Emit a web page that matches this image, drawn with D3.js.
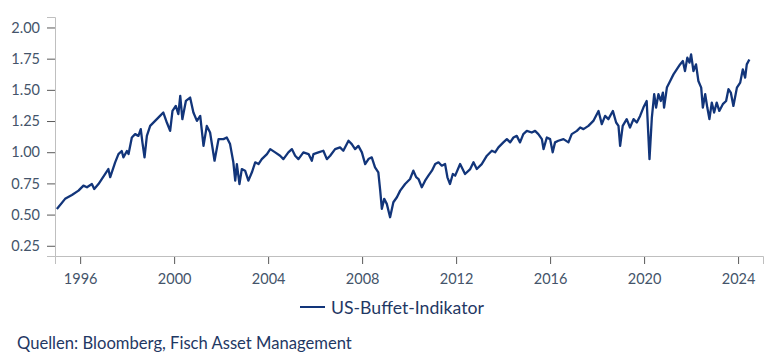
<!DOCTYPE html>
<html><head><meta charset="utf-8">
<script src="https://cdn.jsdelivr.net/npm/d3@7"></script>
<style>
html,body{margin:0;padding:0;background:#fff;}
svg{display:block;font-family:Lato,"Open Sans",sans-serif;}
</style></head>
<body>
<svg id="chart" width="778" height="360"></svg>
<script>
// fractional years of observations
const years = [
1995.01,1995.36,1995.65,1995.93,1996.14,1996.29,1996.50,1996.60,1996.78,1996.92,
1997.06,1997.20,1997.28,1997.49,1997.63,1997.77,1997.84,1997.99,1998.06,1998.20,
1998.34,1998.48,1998.58,1998.65,1998.74,1998.84,1998.98,1999.19,1999.40,1999.54,
1999.69,1999.83,1999.93,2000.07,2000.18,2000.26,2000.35,2000.50,2000.68,2000.82,
2000.97,2001.11,2001.25,2001.39,2001.53,2001.72,2001.89,2002.10,2002.24,2002.38,
2002.52,2002.60,2002.67,2002.78,2002.88,2003.02,2003.16,2003.31,2003.45,2003.59,
2003.73,2003.95,2004.09,2004.30,2004.51,2004.65,2004.86,2005.01,2005.15,2005.29,
2005.50,2005.72,2005.86,2005.93,2006.14,2006.35,2006.50,2006.64,2006.85,2007.06,
2007.20,2007.42,2007.56,2007.70,2007.84,2007.99,2008.13,2008.27,2008.41,2008.55,
2008.69,2008.77,2008.84,2008.94,2009.05,2009.19,2009.33,2009.48,2009.62,2009.83,
2010.04,2010.18,2010.30,2010.40,2010.54,2010.68,2010.82,2010.97,2011.11,2011.25,
2011.39,2011.53,2011.63,2011.74,2011.86,2011.96,2012.17,2012.38,2012.60,2012.74,
2012.88,2013.09,2013.31,2013.52,2013.66,2013.80,2014.01,2014.16,2014.30,2014.44,
2014.58,2014.72,2014.86,2015.01,2015.22,2015.36,2015.50,2015.65,2015.72,2015.86,
2016.00,2016.11,2016.21,2016.35,2016.57,2016.78,2016.92,2017.14,2017.28,2017.42,
2017.63,2017.84,2018.06,2018.20,2018.34,2018.48,2018.67,2018.81,2018.91,2018.98,
2019.09,2019.26,2019.40,2019.55,2019.69,2019.83,2019.97,2020.11,2020.23,2020.33,
2020.43,2020.51,2020.61,2020.71,2020.80,2020.85,2020.97,2021.11,2021.25,2021.39,
2021.53,2021.65,2021.74,2021.84,2021.93,2022.00,2022.10,2022.21,2022.31,2022.43,
2022.50,2022.60,2022.69,2022.78,2022.88,2022.98,2023.09,2023.20,2023.35,2023.49,
2023.59,2023.69,2023.80,2023.95,2024.09,2024.20,2024.30,2024.37,2024.48
];
// US-Buffet-Indikator values
const values = [
0.545,0.626,0.657,0.692,0.732,0.719,0.745,0.705,0.745,0.785,
0.825,0.865,0.800,0.919,0.985,1.010,0.959,1.010,0.985,1.118,
1.145,1.131,1.185,1.079,0.959,1.131,1.211,1.251,1.291,1.318,
1.238,1.171,1.331,1.371,1.305,1.451,1.265,1.411,1.438,1.318,
1.251,1.291,1.051,1.211,1.158,0.932,1.105,1.105,1.118,1.065,
0.919,0.772,0.905,0.745,0.865,0.852,0.772,0.839,0.919,0.905,
0.945,0.985,1.025,0.999,0.972,0.945,0.999,1.025,0.972,0.945,
0.999,0.985,0.932,0.985,0.999,1.012,0.945,0.972,1.025,1.039,
1.012,1.092,1.065,1.025,1.051,0.999,0.905,0.945,0.959,0.879,
0.839,0.692,0.546,0.626,0.586,0.479,0.599,0.639,0.692,0.745,
0.785,0.852,0.800,0.785,0.719,0.772,0.812,0.852,0.905,0.919,
0.892,0.905,0.799,0.745,0.825,0.812,0.905,0.825,0.865,0.919,
0.865,0.905,0.972,1.012,0.999,1.039,1.079,1.105,1.079,1.118,
1.131,1.079,1.145,1.171,1.158,1.171,1.145,1.105,1.025,1.118,
1.105,0.999,1.079,1.092,1.105,1.079,1.145,1.171,1.198,1.185,
1.211,1.251,1.331,1.225,1.291,1.265,1.331,1.238,1.211,1.051,
1.211,1.265,1.198,1.265,1.238,1.291,1.358,1.411,0.945,1.278,
1.465,1.358,1.465,1.411,1.478,1.358,1.518,1.571,1.624,1.664,
1.704,1.731,1.651,1.758,1.718,1.784,1.651,1.704,1.571,1.518,
1.358,1.465,1.358,1.265,1.398,1.318,1.398,1.331,1.385,1.411,
1.505,1.478,1.371,1.518,1.558,1.664,1.598,1.704,1.744
];
const yTicks = [0.25,0.50,0.75,1.00,1.25,1.50,1.75,2.00];
const xTickYears = [1996,2000,2004,2008,2012,2016,2020,2024];
const seriesName = "US-Buffet-Indikator";
const sourceText = "Quellen: Bloomberg, Fisch Asset Management";

const data = years.map((t,i)=>({t, v: values[i]}));
const svg = d3.select("#chart");

const x = d3.scaleLinear().domain([1994.93, 2025.06]).range([55, 763]);
const y = d3.scaleLinear().domain([0.168, 2.084]).range([256, 17]);

const tickColor = "#595959", axisColor = "#bfbfbf", labelColor = "#44546a";
const lineColor = "#12357a";

// fit a text element's font size so that it spans a target width
function fitWidth(sel, target, start){
  sel.style("font-size", start + "px");
  const w = sel.node().getComputedTextLength();
  sel.style("font-size", (start * target / w).toFixed(2) + "px");
}

// y axis
const gy = svg.append("g").attr("transform","translate(55,0)")
  .call(d3.axisLeft(y).tickValues(yTicks).tickFormat(d3.format(".2f")).tickSizeOuter(0).tickSize(8).tickPadding(7));
gy.select(".domain").attr("stroke", axisColor);
gy.selectAll(".tick line").attr("stroke", tickColor);
gy.selectAll(".tick text").attr("fill", labelColor).style("font-size","14.5px").style("font-family","Lato");

// x axis
const gx = svg.append("g").attr("transform","translate(0,256)")
  .call(d3.axisBottom(x).tickValues(xTickYears).tickFormat(d3.format("d")).tickSizeOuter(0).tickSize(8).tickPadding(10));
gx.select(".domain").attr("stroke", axisColor);
gx.selectAll(".tick line").attr("stroke", tickColor).attr("y1", 1);
gx.selectAll(".tick text").attr("fill", labelColor).style("font-size","14.5px").style("font-family","Lato");

// line
svg.append("path").datum(data)
  .attr("fill","none").attr("stroke", lineColor).attr("stroke-width", 2.3)
  .attr("stroke-linejoin","round")
  .attr("d", d3.line().x(d=>x(d.t)).y(d=>y(d.v)));

// legend
svg.append("line").attr("x1",300).attr("x2",325).attr("y1",307).attr("y2",307)
  .attr("stroke", lineColor).attr("stroke-width",2);
const legText = svg.append("text").attr("x",331).attr("y",313.5).text(seriesName)
  .attr("fill","#1f3864");
fitWidth(legText, 153, 16.5);

// source
const srcText = svg.append("text").attr("x",17).attr("y",349).text(sourceText)
  .attr("fill","#1f3864");
fitWidth(srcText, 335, 15.5);
</script>
</body></html>
